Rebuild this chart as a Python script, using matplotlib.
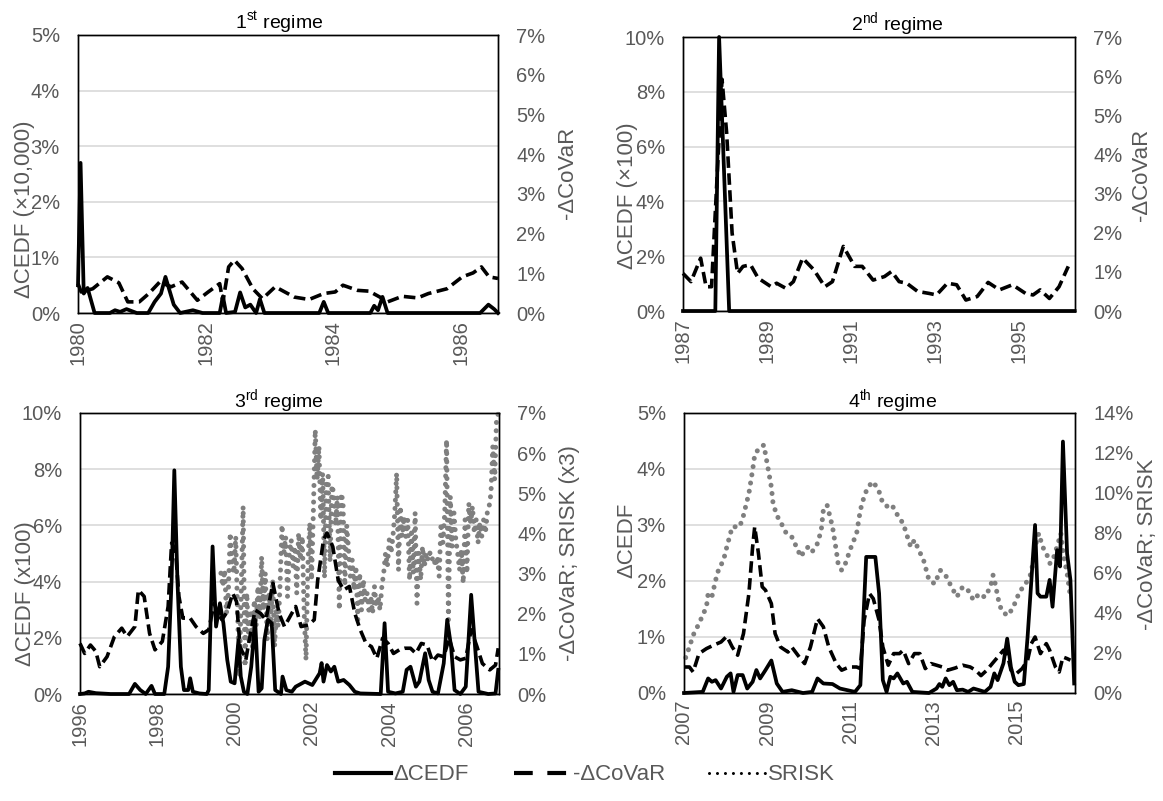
import numpy as np
import matplotlib.pyplot as plt
from matplotlib.lines import Line2D

plt.rcParams['font.family'] = ['Liberation Sans', 'DejaVu Sans']
plt.rcParams['mathtext.fontset'] = 'custom'
plt.rcParams['mathtext.rm'] = 'Liberation Sans'

GRIS = '#595959'
GRIS_SRISK = '#7f7f7f'

# ---------------- 1st regime ----------------
t1_cedf = [1980.00, 1980.04, 1980.09, 1980.15, 1980.26, 1980.50, 1980.58, 1980.66, 1980.76, 1980.92,
           1981.10, 1981.20, 1981.30, 1981.37, 1981.50, 1981.60, 1981.80, 1981.95, 1982.22, 1982.27,
           1982.32, 1982.46, 1982.54, 1982.62, 1982.70, 1982.79, 1982.85, 1982.92, 1983.78, 1983.85,
           1983.92, 1984.58, 1984.64, 1984.70, 1984.77, 1984.85, 1986.30, 1986.43, 1986.52, 1986.58]
cedf1 = [0.5, 2.7, 0.35, 0.45, 0.0, 0.0, 0.05, 0.02, 0.07, 0.0,
         0.0, 0.2, 0.35, 0.65, 0.15, 0.0, 0.05, 0.0, 0.0, 0.3,
         0.0, 0.02, 0.37, 0.1, 0.15, 0.0, 0.25, 0.0, 0.0, 0.2,
         0.0, 0.0, 0.13, 0.05, 0.29, 0.0, 0.0, 0.15, 0.07, 0.0]
t1_covar = [1980.00, 1980.05, 1980.23, 1980.46, 1980.64, 1980.78, 1980.96, 1981.11, 1981.28, 1981.46,
            1981.63, 1981.87, 1982.04, 1982.22, 1982.27, 1982.36, 1982.45, 1982.57, 1982.74, 1982.89,
            1983.09, 1983.39, 1983.62, 1983.85, 1984.03, 1984.15, 1984.38, 1984.56, 1984.73, 1984.85,
            1985.08, 1985.32, 1985.49, 1985.78, 1986.02, 1986.19, 1986.32, 1986.44, 1986.58]
covar1 = [0.74, 0.53, 0.61, 0.91, 0.76, 0.28, 0.28, 0.49, 0.78, 0.66,
          0.78, 0.32, 0.53, 0.74, 0.28, 1.16, 1.33, 1.12, 0.61, 0.36,
          0.66, 0.40, 0.34, 0.49, 0.53, 0.70, 0.57, 0.55, 0.40, 0.28,
          0.42, 0.38, 0.49, 0.61, 0.91, 1.01, 1.16, 0.91, 0.87]

# ---------------- 2nd regime ----------------
t2_cedf = [1987.00, 1987.77, 1987.86, 1988.10, 1996.33]
cedf2 = [0.0, 0.0, 10.0, 0.0, 0.0]
t2_covar = [1987.00, 1987.19, 1987.42, 1987.55, 1987.68, 1987.93, 1988.04, 1988.17, 1988.30, 1988.43,
            1988.61, 1988.79, 1989.10, 1989.23, 1989.45, 1989.63, 1989.85, 1990.12, 1990.38, 1990.56,
            1990.82, 1991.09, 1991.27, 1991.53, 1991.80, 1991.97, 1992.15, 1992.33, 1992.59, 1992.86,
            1993.04, 1993.30, 1993.52, 1993.74, 1994.01, 1994.27, 1994.54, 1994.85, 1995.16, 1995.34,
            1995.51, 1995.73, 1995.96, 1996.18]
covar2 = [0.96, 0.75, 1.35, 0.62, 0.62, 5.92, 4.55, 1.99, 0.96, 1.14,
          1.18, 0.84, 0.62, 0.71, 0.58, 0.75, 1.35, 1.05, 0.62, 0.75,
          1.65, 1.14, 1.14, 0.79, 0.88, 1.01, 0.75, 0.71, 0.50, 0.45,
          0.41, 0.71, 0.67, 0.28, 0.37, 0.73, 0.54, 0.67, 0.45, 0.41,
          0.54, 0.32, 0.62, 1.14]

# ---------------- 3rd regime ----------------
t3_cedf = [1996.00, 1996.12, 1996.22, 1996.41, 1996.79, 1997.27, 1997.42, 1997.56, 1997.70, 1997.85,
           1997.94, 1998.18, 1998.28, 1998.37, 1998.44, 1998.52, 1998.61, 1998.69, 1998.80, 1998.85,
           1998.92, 1999.09, 1999.28, 1999.33, 1999.43, 1999.52, 1999.62, 1999.71, 1999.81, 1999.90,
           2000.00, 2000.10, 2000.16, 2000.24, 2000.33, 2000.43, 2000.53, 2000.62, 2000.70, 2000.77,
           2000.86, 2000.96, 2001.05, 2001.20, 2001.24, 2001.34, 2001.48, 2001.58, 2001.82, 2002.01,
           2002.20, 2002.25, 2002.30, 2002.39, 2002.49, 2002.58, 2002.68, 2002.82, 2002.97, 2003.11,
           2003.25, 2003.78, 2003.88, 2003.97, 2004.16, 2004.35, 2004.45, 2004.55, 2004.69, 2004.78,
           2004.93, 2005.02, 2005.12, 2005.26, 2005.41, 2005.50, 2005.60, 2005.69, 2005.84, 2005.98,
           2006.12, 2006.22, 2006.31, 2006.56, 2006.75, 2006.82]
cedf3 = [0.0, 0.02, 0.08, 0.03, 0.0, 0.0, 0.36, 0.14, 0.0, 0.29,
         0.0, 0.0, 0.97, 4.06, 7.96, 4.06, 0.97, 0.14, 0.14, 0.56,
         0.08, 0.02, 0.0, 0.14, 5.25, 2.40, 3.23, 2.52, 1.21, 0.44,
         0.38, 1.92, 0.62, 0.08, 0.0, 0.97, 2.64, 0.08, 0.20, 1.92,
         2.64, 2.52, 0.14, 0.0, 0.62, 0.14, 0.08, 0.26, 0.44, 0.32,
         0.74, 1.10, 0.44, 1.03, 0.80, 0.97, 0.44, 0.50, 0.32, 0.08,
         0.02, 0.0, 2.52, 0.08, 0.02, 0.08, 0.86, 0.97, 0.26, 0.44,
         1.45, 0.50, 0.08, 0.02, 1.09, 2.64, 1.69, 0.14, 0.0, 0.26,
         3.53, 1.69, 0.08, 0.0, 0.02, 0.86]
t3_covar = [1996.00, 1996.12, 1996.27, 1996.41, 1996.51, 1996.70, 1996.89, 1997.08, 1997.22, 1997.42,
            1997.51, 1997.66, 1997.80, 1997.94, 1998.13, 1998.28, 1998.37, 1998.47, 1998.56, 1998.66,
            1998.85, 1999.00, 1999.19, 1999.33, 1999.47, 1999.57, 1999.67, 1999.81, 1999.95, 2000.05,
            2000.14, 2000.29, 2000.38, 2000.53, 2000.67, 2000.81, 2000.99, 2001.15, 2001.29, 2001.48,
            2001.58, 2001.72, 2001.91, 2002.06, 2002.15, 2002.30, 2002.39, 2002.54, 2002.68, 2002.82,
            2002.97, 2003.11, 2003.25, 2003.40, 2003.54, 2003.68, 2003.83, 2003.97, 2004.11, 2004.26,
            2004.40, 2004.55, 2004.69, 2004.83, 2004.98, 2005.12, 2005.26, 2005.41, 2005.55, 2005.69,
            2005.84, 2005.98, 2006.12, 2006.27, 2006.41, 2006.60, 2006.75, 2006.82]
covar3 = [1.26, 1.01, 1.22, 1.06, 0.68, 0.93, 1.43, 1.64, 1.43, 1.68,
          2.59, 2.43, 1.51, 1.10, 1.31, 2.18, 3.76, 3.59, 2.43, 1.89,
          1.89, 1.68, 1.51, 1.60, 2.26, 2.01, 1.85, 2.05, 2.51, 2.30,
          1.18, 0.85, 1.35, 2.09, 2.01, 1.85, 2.76, 2.01, 1.68, 2.01,
          2.18, 1.68, 1.72, 1.85, 2.84, 3.84, 4.01, 3.67, 2.84, 2.59,
          2.68, 2.01, 1.60, 1.26, 1.18, 0.89, 1.39, 1.26, 1.01, 1.10,
          1.14, 1.14, 1.01, 1.26, 1.22, 0.81, 0.97, 0.93, 1.39, 0.93,
          0.85, 0.89, 1.60, 1.18, 0.76, 0.60, 0.72, 1.14]
# SRISK (x3): series starts mid-1999, sampled about every 2.5 weeks
srisk3_start = 1999.646
srisk3_step = 0.04785
srisk3 = [3.01, 2.68, 3.09, 2.01, 2.51, 4.01, 3.26, 3.01, 3.92, 2.01,
          0.43, 2.68, 4.67, 0.68, 2.51, 1.35, 2.09, 1.18, 2.34, 1.68,
          2.68, 1.85, 3.42, 2.09, 3.01, 1.35, 2.51, 1.85, 2.84, 1.18,
          2.09, 1.68, 2.76, 4.21, 3.51, 3.92, 2.43, 3.51, 3.84, 3.18,
          3.67, 2.51, 4.01, 3.34, 3.92, 2.01, 0.85, 3.18, 4.26, 2.84,
          4.59, 6.58, 5.34, 6.17, 4.34, 5.50, 2.90, 5.30, 5.42, 3.30,
          5.20, 5.00, 4.20, 4.92, 2.10, 5.00, 4.80, 2.70, 4.20, 3.59,
          2.93, 3.34, 2.59, 3.18, 1.85, 3.01, 2.09, 2.84, 2.34, 2.51,
          2.09, 2.43, 2.01, 2.68, 2.18, 2.43, 2.09, 2.68, 3.01, 3.51,
          3.18, 3.84, 3.51, 3.92, 4.51, 5.50, 3.09, 4.67, 3.92, 4.42,
          3.92, 4.34, 2.84, 4.01, 3.01, 4.51, 2.26, 3.51, 2.84, 3.67,
          3.18, 3.51, 3.34, 3.51, 3.34, 3.42, 3.18, 3.42, 2.93, 4.26,
          3.76, 4.51, 6.33, 1.85, 4.92, 3.67, 4.51, 3.84, 3.51, 3.09,
          3.59, 2.76, 4.34, 3.01, 4.75, 4.26, 4.67, 4.01, 4.34, 3.76,
          4.26, 3.92, 4.34, 4.01, 4.51, 4.67, 5.00, 6.17, 5.34, 6.83,
          7.00]

# ---------------- 4th regime ----------------
t4_cedf = [2007.00, 2007.45, 2007.58, 2007.67, 2007.76, 2007.89, 2008.03, 2008.12, 2008.19, 2008.29,
           2008.41, 2008.52, 2008.65, 2008.74, 2008.83, 2008.96, 2009.10, 2009.23, 2009.37, 2009.59,
           2009.86, 2010.08, 2010.21, 2010.35, 2010.57, 2010.75, 2010.93, 2011.11, 2011.24, 2011.38,
           2011.60, 2011.69, 2011.78, 2011.87, 2011.96, 2012.04, 2012.13, 2012.27, 2012.36, 2012.49,
           2012.89, 2013.07, 2013.14, 2013.21, 2013.29, 2013.38, 2013.47, 2013.56, 2013.70, 2013.83,
           2013.96, 2014.10, 2014.23, 2014.37, 2014.46, 2014.54, 2014.68, 2014.77, 2014.86, 2014.95,
           2015.04, 2015.17, 2015.26, 2015.44, 2015.50, 2015.57, 2015.71, 2015.79, 2015.86, 2015.97,
           2016.04, 2016.11, 2016.21, 2016.29, 2016.38]
cedf4 = [0.0, 0.02, 0.26, 0.20, 0.23, 0.08, 0.29, 0.35, 0.02, 0.32,
         0.32, 0.08, 0.20, 0.41, 0.26, 0.41, 0.58, 0.17, 0.02, 0.05,
         0.0, 0.02, 0.26, 0.17, 0.16, 0.08, 0.05, 0.02, 0.14, 2.43,
         2.43, 1.78, 0.23, 0.02, 0.29, 0.26, 0.35, 0.17, 0.20, 0.02,
         0.0, 0.08, 0.16, 0.11, 0.26, 0.14, 0.20, 0.05, 0.06, 0.02,
         0.08, 0.05, 0.02, 0.11, 0.35, 0.23, 0.53, 0.97, 0.46, 0.20,
         0.14, 0.16, 1.00, 3.00, 1.78, 1.72, 1.72, 2.02, 1.54, 2.55,
         2.26, 4.49, 2.49, 2.02, 0.17]
t4_covar = [2007.00, 2007.13, 2007.22, 2007.36, 2007.54, 2007.71, 2007.89, 2008.03, 2008.16, 2008.29,
            2008.43, 2008.56, 2008.65, 2008.70, 2008.79, 2008.88, 2008.96, 2009.10, 2009.19, 2009.32,
            2009.50, 2009.59, 2009.77, 2009.90, 2010.04, 2010.21, 2010.35, 2010.48, 2010.66, 2010.79,
            2010.97, 2011.15, 2011.24, 2011.33, 2011.46, 2011.55, 2011.69, 2011.78, 2011.91, 2012.04,
            2012.18, 2012.27, 2012.40, 2012.54, 2012.67, 2012.80, 2012.94, 2013.07, 2013.21, 2013.34,
            2013.52, 2013.70, 2013.88, 2014.01, 2014.14, 2014.28, 2014.41, 2014.54, 2014.68, 2014.77,
            2014.86, 2014.99, 2015.13, 2015.26, 2015.35, 2015.44, 2015.57, 2015.71, 2015.79, 2015.93,
            2016.02, 2016.11, 2016.21, 2016.29]
covar4 = [1.30, 1.30, 1.05, 1.97, 2.22, 2.39, 2.55, 2.84, 2.30, 1.89,
          2.97, 4.97, 7.31, 8.31, 6.98, 5.31, 5.14, 4.47, 2.97, 2.30,
          2.05, 2.30, 1.80, 1.47, 2.30, 3.72, 3.31, 2.30, 1.47, 1.14,
          1.30, 1.30, 1.22, 3.64, 4.97, 4.72, 3.64, 2.30, 1.39, 1.97,
          1.97, 2.14, 1.47, 1.97, 1.97, 1.22, 1.47, 1.39, 1.30, 1.14,
          1.25, 1.39, 1.30, 1.14, 0.87, 1.14, 1.47, 1.79, 2.14, 1.97,
          1.14, 0.97, 1.22, 1.64, 2.47, 2.80, 1.97, 2.47, 2.14, 1.30,
          1.05, 1.80, 1.72, 1.64]
t4_srisk = [2007.04, 2007.13, 2007.22, 2007.36, 2007.45, 2007.54, 2007.58, 2007.67, 2007.76, 2007.85,
            2007.94, 2008.03, 2008.16, 2008.34, 2008.43, 2008.56, 2008.65, 2008.70, 2008.79, 2008.92,
            2009.01, 2009.10, 2009.14, 2009.23, 2009.32, 2009.46, 2009.59, 2009.68, 2009.81, 2009.90,
            2009.99, 2010.08, 2010.21, 2010.30, 2010.35, 2010.44, 2010.57, 2010.66, 2010.71, 2010.79,
            2010.88, 2011.02, 2011.15, 2011.24, 2011.33, 2011.42, 2011.55, 2011.69, 2011.78, 2011.91,
            2012.00, 2012.09, 2012.18, 2012.27, 2012.36, 2012.45, 2012.54, 2012.63, 2012.76, 2012.89,
            2013.03, 2013.16, 2013.29, 2013.43, 2013.56, 2013.70, 2013.83, 2013.96, 2014.10, 2014.23,
            2014.37, 2014.43, 2014.50, 2014.54, 2014.63, 2014.77, 2014.90, 2015.08, 2015.17, 2015.26,
            2015.35, 2015.44, 2015.53, 2015.62, 2015.71, 2015.80, 2015.89, 2015.98, 2016.06, 2016.13,
            2016.21, 2016.29]
srisk4 = [1.77, 2.30, 2.89, 3.47, 3.89, 4.31, 4.97, 4.81, 5.64, 6.31,
          6.56, 7.31, 8.31, 8.31, 8.88, 9.98, 11.15, 11.90, 12.20, 12.40,
          11.35, 10.30, 9.50, 8.88, 8.56, 7.98, 7.81, 7.41, 6.81, 7.14,
          7.31, 7.06, 7.48, 8.15, 9.15, 9.40, 8.31, 7.14, 6.39, 6.14,
          6.47, 7.31, 7.98, 9.15, 9.82, 10.30, 10.57, 10.07, 9.48, 9.30,
          9.40, 9.05, 8.73, 8.48, 7.88, 7.31, 7.65, 7.21, 6.64, 5.64,
          5.46, 6.14, 5.88, 5.31, 4.81, 5.31, 5.13, 4.64, 4.97, 4.79,
          5.31, 5.89, 5.31, 4.81, 4.14, 3.87, 4.21, 5.13, 5.30, 5.64,
          6.00, 7.31, 7.98, 7.31, 7.00, 6.47, 6.80, 7.40, 7.98, 6.80,
          5.98, 4.81]

W, H = 1163, 801
fig = plt.figure(figsize=(W / 100, H / 100), dpi=100)


def caja(l, t, r, b):
    return [l / W, 1 - b / H, (r - l) / W, (b - t) / H]


def panel(rect, xlim, xticks, ylim_l, step_l, ylim_r, step_r):
    ax = fig.add_axes(caja(*rect))
    ax2 = ax.twinx()
    ax.set_xlim(*xlim)
    ax.set_ylim(0, ylim_l)
    ax2.set_ylim(0, ylim_r)
    ax.set_xticks(xticks)
    ax.set_xticklabels([str(a) for a in xticks], rotation=90, color=GRIS, fontsize=14.5)
    yl = np.arange(0, ylim_l + 0.01, step_l)
    yr = np.arange(0, ylim_r + 0.01, step_r)
    ax.set_yticks(yl)
    ax.set_yticklabels([f'{v:.0f}%' for v in yl], color=GRIS, fontsize=14.5)
    ax2.set_yticks(yr)
    ax2.set_yticklabels([f'{v:.0f}%' for v in yr], color=GRIS, fontsize=14.5)
    ax.tick_params(axis='x', length=0, pad=5)
    ax.tick_params(axis='y', length=0, pad=13)
    ax2.tick_params(axis='y', length=0, pad=13)
    ax.yaxis.grid(True, color='#d9d9d9', lw=1.2)
    ax.set_axisbelow(True)
    for a in (ax, ax2):
        for s in a.spines.values():
            s.set_color('black')
            s.set_linewidth(1.0)
    return ax, ax2


def pinta(ax, ax2, tc, vc, tv, vv, ts=None, vs=None):
    if ts is not None:
        ax2.plot(ts, vs, color=GRIS_SRISK, lw=3.6, linestyle=(0, (0.01, 1.65)),
                 dash_capstyle='round', clip_on=False, zorder=2)
    ax2.plot(tv, vv, color='black', lw=2.6, linestyle=(0, (3.2, 1.5)),
             dash_capstyle='butt', clip_on=False, zorder=3)
    ax2.plot(tc, vc, color='black', lw=2.7, solid_joinstyle='round', clip_on=False, zorder=4)


def rotulos(tit, txy, izq, ixy, der, dxy):
    fig.text(txy[0] / W, 1 - txy[1] / H, tit, ha='center', va='center', fontsize=14, color='black')
    fig.text(ixy[0] / W, 1 - ixy[1] / H, izq, ha='center', va='center', rotation=90, fontsize=16, color=GRIS)
    fig.text(dxy[0] / W, 1 - dxy[1] / H, der, ha='center', va='center', rotation=90, fontsize=16, color=GRIS)


# panel 1
ax, ax2 = panel((78, 35, 498, 313), (1980, 1986.58), [1980, 1982, 1984, 1986], 5, 1, 7, 1)
# the CEDF line is drawn on the right axis, so rescale it to the right units
esc = 7 / 5
pinta(ax, ax2, t1_cedf, np.array(cedf1) * esc, t1_covar, covar1)
rotulos('1$^{\\mathrm{st}}$ regime', (279, 23), 'ΔCEDF (×10,000)', (25, 209), '-ΔCoVaR', (567, 173))

# panel 2
ax, ax2 = panel((683, 37, 1075, 311), (1987, 1996.34), [1987, 1989, 1991, 1993, 1995], 10, 2, 7, 1)
esc = 7 / 10
pinta(ax, ax2, t2_cedf, np.array(cedf2) * esc, t2_covar, covar2)
rotulos('2$^{\\mathrm{nd}}$ regime', (897, 25), 'ΔCEDF (×100)', (627, 196), '-ΔCoVaR', (1141, 175))

# panel 3
ax, ax2 = panel((80, 413, 499, 694), (1996, 2006.84), [1996, 1998, 2000, 2002, 2004, 2006], 10, 2, 7, 1)
esc = 7 / 10
t3_srisk = srisk3_start + srisk3_step * np.arange(len(srisk3))
pinta(ax, ax2, t3_cedf, np.array(cedf3) * esc, t3_covar, covar3, t3_srisk, srisk3)
rotulos('3$^{\\mathrm{rd}}$ regime', (279, 402), 'ΔCEDF (x100)', (25, 594), '-ΔCoVaR; SRISK (x3)', (569, 553))

# panel 4
ax, ax2 = panel((684, 413, 1075, 693), (2007, 2016.4), [2007, 2009, 2011, 2013, 2015], 5, 1, 14, 2)
esc = 14 / 5
pinta(ax, ax2, t4_cedf, np.array(cedf4) * esc, t4_covar, covar4, t4_srisk, srisk4)
rotulos('4$^{\\mathrm{th}}$ regime', (893, 402), 'ΔCEDF', (627, 540), '-ΔCoVaR; SRISK', (1147, 544))

# leyenda común
h = [Line2D([], [], color='black', lw=3.0),
     Line2D([], [], color='black', lw=3.0, linestyle=(0, (4.5, 3.5))),
     Line2D([], [], color='black', lw=2.2, linestyle=(0, (0.01, 2.6)), dash_capstyle='round')]
fig.legend(h, ['ΔCEDF', '-ΔCoVaR', 'SRISK'], loc='center', bbox_to_anchor=(585 / W, 1 - 775 / H),
           ncol=3, frameon=False, fontsize=16, labelcolor=GRIS, handlelength=2.5,
           handletextpad=0.15, columnspacing=2.0)

fig.savefig('out.png', dpi=100)
